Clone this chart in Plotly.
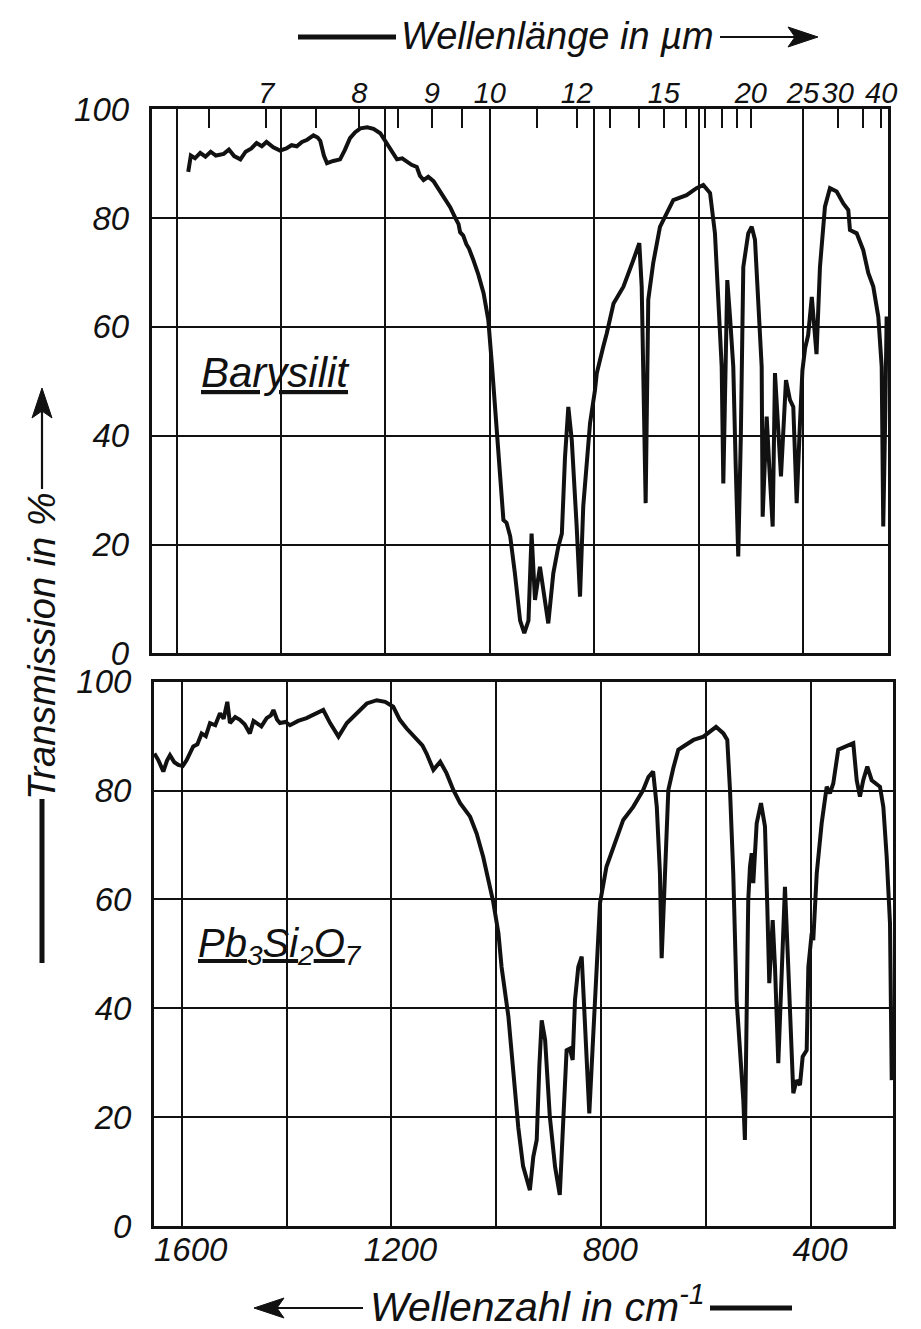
import plotly.graph_objects as go

# ---------------- data ----------------
# Upper panel: Barysilit  (wavenumber in cm^-1, transmission in %)
barysilit_wn = [1578, 1573, 1565, 1555, 1545, 1535, 1525, 1510, 1500, 1490, 1478, 1468, 1457, 1447,
                1437, 1428, 1415, 1402, 1390, 1380, 1370, 1360, 1350, 1338, 1330, 1325, 1318, 1312,
                1300, 1287, 1278, 1268, 1258, 1248, 1235, 1223, 1210, 1198, 1188, 1178, 1168, 1159,
                1150, 1140, 1134, 1127, 1118, 1108, 1100, 1095, 1086, 1076, 1066, 1060, 1057, 1051,
                1045, 1040, 1032, 1022, 1012, 1003, 996, 990, 984, 978, 974, 968, 961, 952, 942, 934,
                926, 920, 913.5, 904, 897.5, 888, 878.4, 868.8, 862, 856, 849.6, 843, 833.6, 827.2,
                821, 808, 798.5, 795, 782.6, 776, 763, 744, 725, 713.6, 709, 704, 701.4, 696.4, 687,
                674, 661, 648.5, 623, 604, 591, 578, 568.6, 562.2, 555.7, 552.6, 548, 545, 539.8,
                533.5, 529, 524, 519, 514.3, 504.8, 498.2, 491.9, 485.6, 479.1, 477.2, 469.5, 464.5,
                458, 453.6, 447.3, 442.1, 432.5, 424.9, 418.5, 412, 405.7, 401, 396, 390, 383, 378,
                374, 367.4, 357.8, 348.2, 335.4, 322.7, 313.1, 309.9, 297, 284.4, 274.8, 265.2,
                255.6, 249.1, 246.1, 242, 239.6]
barysilit_T = [88.5, 91.5, 91.0, 92.0, 91.3, 92.2, 91.5, 91.8, 92.6, 91.4, 90.8, 92.2, 92.8, 93.8,
               93.2, 94.0, 93.0, 92.4, 92.8, 93.4, 93.2, 94.0, 94.4, 95.2, 94.8, 94.2, 91.5, 90.1,
               90.5, 90.8, 92.5, 94.7, 95.8, 96.5, 96.7, 96.4, 95.6, 93.8, 92.0, 90.8, 91.0, 90.4,
               89.8, 89.4, 87.8, 87.0, 87.6, 86.8, 85.6, 85.0, 83.6, 82.0, 80.0, 78.9, 77.4, 76.8,
               75.2, 74.4, 72.4, 69.6, 66.2, 61.3, 53.0, 45.0, 38.0, 30.0, 24.5, 24.0, 21.5, 14.7,
               6.0, 3.7, 6.0, 22.0, 9.8, 15.9, 11.6, 5.5, 14.7, 19.6, 22.0, 36.0, 45.3, 39.2, 23.3,
               10.4, 27.0, 42.3, 48.4, 51.5, 56.4, 58.8, 64.3, 67.4, 72.3, 75.4, 67.4, 45.0, 27.6,
               65.0, 71.7, 78.4, 80.9, 83.3, 84.2, 85.5, 86.1, 84.6, 77.2, 65.0, 52.7, 31.2, 55.0,
               68.6, 61.9, 52.7, 35.0, 17.8, 40.0, 71.0, 77.2, 78.4, 76.0, 65.0, 52.7, 25.1, 43.5,
               34.3, 23.3, 51.5, 39.2, 32.5, 50.2, 46.6, 45.3, 27.6, 42.3, 52.0, 56.0, 58.5, 65.5,
               60.0, 55.0, 71.0, 82.1, 85.5, 84.9, 82.7, 81.5, 77.8, 77.2, 74.1, 69.9, 67.4, 61.9,
               52.7, 23.3, 45.3, 61.9]

# Lower panel: Pb3Si2O7
pb_wn = [1652, 1644.6, 1635, 1628, 1622.3, 1614, 1606.5, 1598, 1590.5, 1578, 1570, 1562, 1554, 1546,
         1536, 1527, 1520, 1513, 1508, 1498, 1489, 1480, 1470, 1463, 1457, 1448, 1438, 1430, 1425,
         1418, 1412.6, 1402, 1393.5, 1378, 1362, 1345, 1330, 1317, 1301, 1285, 1266, 1247, 1228,
         1212, 1196.5, 1184, 1171, 1152, 1141, 1133, 1120, 1107, 1095, 1082, 1069, 1050, 1037.5,
         1025, 1012, 1006, 996, 990, 977, 967, 958, 949, 940, 936, 929.5, 923, 918, 913.5, 907, 898,
         888, 879, 872, 866, 860, 854.4, 850, 843.7, 837.2, 831, 822.7, 815, 808.6, 802.3, 790, 777,
         758, 739, 720, 710, 701, 694, 688, 684.7, 678.4, 672, 662.6, 653, 643.5, 624, 605, 592.6,
         581, 567, 559.6, 554.4, 548.2, 541.7, 535.4, 529, 526, 522.6, 519.6, 516.3, 513, 510,
         503.5, 495.3, 487.7, 483.3, 481.4, 479.5, 473, 468.6, 462.3, 456, 449.6, 443.3, 436.8,
         433.7, 427.3, 421, 415.8, 408.2, 405, 398.6, 395.6, 392.3, 389, 379.6, 370, 363.8, 357.5,
         348, 332, 319.3, 312.8, 306.6, 300.3, 292.6, 284.2, 274.7, 268.4, 262, 255.6, 249.3, 246]
pb_T = [86.8, 85.6, 83.5, 85.5, 86.5, 85.2, 84.7, 84.5, 85.6, 88.1, 88.5, 90.5, 90.0, 92.4,
        92.0, 94.2, 93.2, 96.3, 92.4, 93.5, 93.0, 92.2, 90.5, 92.8, 92.4, 91.8, 93.3, 93.8, 94.8,
        93.0, 92.4, 92.6, 92.0, 92.8, 93.3, 94.0, 94.8, 92.4, 89.9, 92.4, 94.2, 96.0, 96.6,
        96.3, 95.4, 93.0, 91.4, 89.6, 88.3, 86.8, 83.8, 85.3, 83.2, 80.1, 77.7, 75.2, 72.1,
        67.8, 62.3, 59.6, 53.8, 47.6, 38.5, 27.0, 18.0, 11.0, 7.5, 6.6, 12.7, 15.8, 29.3, 37.8, 34.2, 20.1,
        10.9, 5.7, 20.1, 32.3, 32.6, 30.5, 41.5, 47.6, 49.5, 38.5, 20.7, 35.4, 47.6, 59.3, 66.0, 69.7,
        74.6, 77.0, 80.1, 82.5, 83.5, 77.0, 64.8, 49.2, 64.8, 80.1, 84.1, 87.5, 88.1, 89.3, 89.9, 90.8,
        91.7, 90.5, 89.3, 80.1, 64.8, 41.5, 32.3, 23.1, 15.8, 41.5, 59.9, 66.0, 68.5, 63.0,
        74.0, 77.7, 73.4, 58.7, 53.8, 44.6, 56.2, 47.6, 29.9, 44.6, 62.3, 47.6, 29.3,
        24.4, 26.8, 25.9, 31.1, 32.3, 47.6, 53.8, 52.5, 58.7, 64.8, 74.0, 80.7, 79.5, 81.3,
        87.5, 88.1, 88.7, 81.9, 78.9, 81.9, 84.4, 81.9, 81.3, 80.7, 77.0, 67.8, 55.6, 26.8]

# axis ticks
wn_grid = [1600, 1400, 1200, 1000, 800, 600, 400]
wn_labels = ["1600", "", "1200", "", "800", "", "400"]
t_ticks = [0, 20, 40, 60, 80, 100]
mu_ticks = [6.5, 7, 7.5, 8, 8.5, 9, 9.5, 10, 11, 12, 13, 14, 15, 16, 17, 18, 19, 20, 25, 30, 35, 40]
mu_labeled = [7, 8, 9, 10, 12, 15, 20, 25, 30, 40]

# ---------------- layout geometry ----------------
# The page body has an 8px margin, so the figure is made 8px smaller and all
# screen positions below are converted with that offset.
OFF = 8
W, H = 921 - OFF, 1329 - OFF
ML, MT = 150 - OFF, 109 - OFF
MR = W - (895 - OFF)
MB = H - (1226 - OFF)
PW = W - ML - MR
PH = H - MT - MB


def pxx(sx):
    return (sx - OFF - ML) / PW


def pxy(sy):
    return (H - MB - (sy - OFF)) / PH


FONT = "Liberation Sans, Arial, sans-serif"
BLACK = "#111111"

fig = go.Figure()
fig.add_trace(go.Scatter(x=barysilit_wn, y=barysilit_T, mode="lines", xaxis="x2", yaxis="y2",
                         line=dict(color=BLACK, width=4), hoverinfo="skip"))
fig.add_trace(go.Scatter(x=pb_wn, y=pb_T, mode="lines", xaxis="x", yaxis="y",
                         line=dict(color=BLACK, width=4), hoverinfo="skip"))
fig.add_trace(go.Scatter(x=[], y=[], xaxis="x3", yaxis="y2", showlegend=False))

tickfont = dict(family=FONT, size=33, color=BLACK, style="italic")
toptickfont = dict(family=FONT, size=29, color=BLACK, style="italic")
common_axis = dict(showline=True, mirror=True, linecolor=BLACK, linewidth=3,
                   showgrid=True, gridcolor=BLACK, gridwidth=1.6, zeroline=False, ticks="")

fig.update_layout(
    width=W, height=H,
    margin=dict(l=ML, r=MR, t=MT, b=MB, autoexpand=False),
    paper_bgcolor="white", plot_bgcolor="white",
    showlegend=False,
    xaxis=dict(domain=[pxx(154), pxx(893.3)], range=[1652.8, 243], anchor="y",
               tickvals=wn_grid, ticktext=wn_labels, tickfont=tickfont, tickangle=0,
               ticklabelstandoff=-8, ticklabelshift=-9, **common_axis),
    yaxis=dict(domain=[pxy(1226), pxy(681.7)], range=[0, 100], anchor="x",
               tickvals=t_ticks, tickfont=tickfont, ticklabelstandoff=13, **common_axis),
    xaxis2=dict(domain=[pxx(151.7), pxx(888)], range=[1648, 237], anchor="y2",
                tickvals=wn_grid, showticklabels=False, **common_axis),
    yaxis2=dict(domain=[pxy(653.3), pxy(109.3)], range=[0, 100], anchor="x2",
                tickvals=t_ticks, tickfont=tickfont, ticklabelstandoff=13, **common_axis),
    xaxis3=dict(overlaying="x2", anchor="y2", side="top", range=[1648, 237],
                tickvals=[10000 / m for m in mu_ticks],
                ticktext=[(("%g" % m) if m in mu_labeled else "") for m in mu_ticks],
                ticks="inside", ticklen=19, tickwidth=2, tickcolor=BLACK, tickangle=0,
                showgrid=False, showline=False, zeroline=False,
                tickfont=toptickfont, ticklabelstandoff=0),
)

annotations = []
shapes = []


def hline(x0, x1, y, w):
    shapes.append(dict(type="line", xref="paper", yref="paper", x0=pxx(x0), x1=pxx(x1),
                       y0=pxy(y), y1=pxy(y), line=dict(color=BLACK, width=w)))


def vline(x, y0, y1, w):
    shapes.append(dict(type="line", xref="paper", yref="paper", x0=pxx(x), x1=pxx(x),
                       y0=pxy(y0), y1=pxy(y1), line=dict(color=BLACK, width=w)))


def arrowhead(tx, ty, dx, dy, length=30, half=10, notch=7):
    # tip at (tx, ty) in screen px, pointing along unit direction (dx, dy)
    nx, ny = -dy, dx
    bx, by = tx - dx * length, ty - dy * length
    p1 = (bx + nx * half, by + ny * half)
    p2 = (tx - dx * (length - notch), ty - dy * (length - notch))
    p3 = (bx - nx * half, by - ny * half)
    pts = [(tx, ty), p1, p2, p3]
    path = "M " + " L ".join("%.5f,%.5f" % (pxx(x), pxy(y)) for x, y in pts) + " Z"
    shapes.append(dict(type="path", xref="paper", yref="paper", path=path,
                       fillcolor=BLACK, line=dict(color=BLACK, width=1)))


titlefont = dict(family=FONT, size=38, color=BLACK, style="italic")

# top title: ---- Wellenlänge in µm ---->
hline(298, 396, 37, 5)
annotations.append(dict(text="Wellenlänge in µm", xref="paper", yref="paper",
                        x=pxx(557), y=pxy(36), xanchor="center", yanchor="middle",
                        showarrow=False, font=titlefont))
hline(720, 800, 37, 2.2)
arrowhead(818, 37, 1, 0)

# y title (rotated): ---- Transmission in % ---->
annotations.append(dict(text="Transmission in %", xref="paper", yref="paper",
                        x=pxx(42), y=pxy(646), xanchor="center", yanchor="middle",
                        textangle=-90, showarrow=False, font=titlefont))
vline(42, 489, 405, 2.2)
arrowhead(42, 388, 0, -1)
vline(42, 799, 963, 5)

# bottom title: <---- Wellenzahl in cm-1 ----
annotations.append(dict(text="Wellenzahl in cm<sup>-1</sup>", xref="paper", yref="paper",
                        x=pxx(537), y=pxy(1304), xanchor="center", yanchor="middle",
                        showarrow=False, font=dict(titlefont, size=41)))
arrowhead(254, 1308, -1, 0)
hline(270, 363, 1308, 2.2)
hline(710, 792, 1308, 5)

# sample labels
labelfont = dict(family=FONT, size=42, color=BLACK, style="italic")
annotations.append(dict(text="<u>Barysilit</u>", xref="paper", yref="paper",
                        x=pxx(199), y=pxy(372), xanchor="left", yanchor="middle",
                        showarrow=False, font=labelfont))
annotations.append(dict(text="<u>Pb</u><sub>3</sub><u>Si</u><sub>2</sub><u>O</u><sub>7</sub>",
                        xref="paper", yref="paper",
                        x=pxx(196), y=pxy(946), xanchor="left", yanchor="middle",
                        showarrow=False, font=dict(labelfont, size=40)))

fig.update_layout(annotations=annotations, shapes=shapes)

fig.write_html("out.html")
